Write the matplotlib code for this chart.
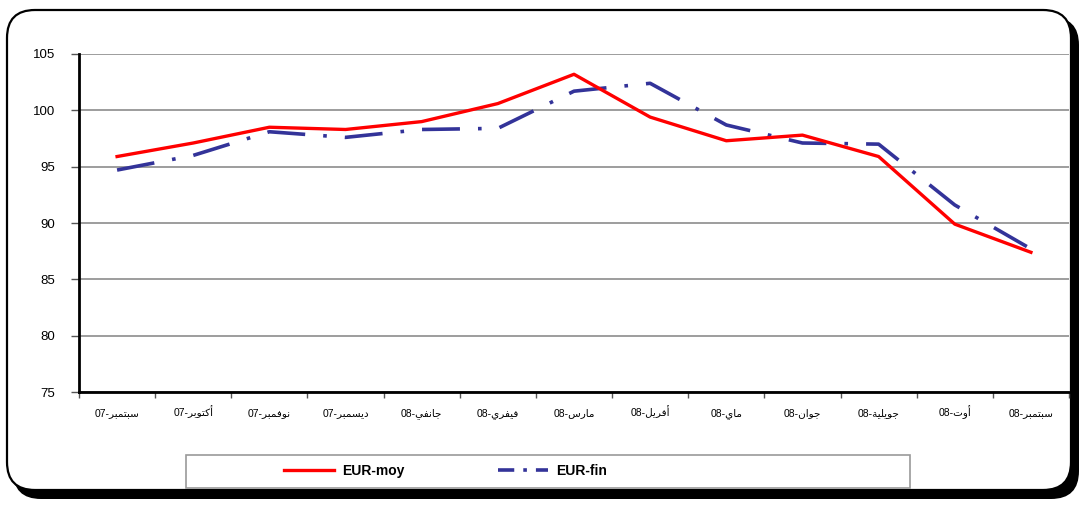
import numpy as np
import matplotlib
matplotlib.use("Agg")
import matplotlib.pyplot as plt
from matplotlib.patches import FancyBboxPatch, Rectangle
from matplotlib.lines import Line2D

plt.rcParams['font.family'] = ['Liberation Sans', 'DejaVu Sans']

# --- données
months = ['سبتمبر', 'أكتوبر', 'نوفمبر', 'ديسمبر', 'جانفي', 'فيفري', 'مارس',
          'أفريل', 'ماي', 'جوان', 'جويلية', 'أوت', 'سبتمبر']
years = ['07', '07', '07', '07', '08', '08', '08', '08', '08', '08', '08', '08', '08']
eur_moy = [95.9, 97.1, 98.5, 98.3, 99.0, 100.6, 103.2, 99.4, 97.3, 97.8, 95.9, 89.9, 87.4]
eur_fin = [94.7, 96.0, 98.1, 97.6, 98.3, 98.4, 101.7, 102.4, 98.7, 97.1, 97.0, 91.6, 87.7]
y_ticks = [75, 80, 85, 90, 95, 100, 105]

# --- formes contextuelles arabes (isolée, finale, initiale, médiane)
FORMS = {
    'ا': ('\uFE8D', '\uFE8E', None, None),
    'أ': ('\uFE83', '\uFE84', None, None),
    'ب': ('\uFE8F', '\uFE90', '\uFE91', '\uFE92'),
    'ة': ('\uFE93', '\uFE94', None, None),
    'ت': ('\uFE95', '\uFE96', '\uFE97', '\uFE98'),
    'ج': ('\uFE9D', '\uFE9E', '\uFE9F', '\uFEA0'),
    'د': ('\uFEA9', '\uFEAA', None, None),
    'ر': ('\uFEAD', '\uFEAE', None, None),
    'س': ('\uFEB1', '\uFEB2', '\uFEB3', '\uFEB4'),
    'ف': ('\uFED1', '\uFED2', '\uFED3', '\uFED4'),
    'ك': ('\uFED9', '\uFEDA', '\uFEDB', '\uFEDC'),
    'ل': ('\uFEDD', '\uFEDE', '\uFEDF', '\uFEE0'),
    'م': ('\uFEE1', '\uFEE2', '\uFEE3', '\uFEE4'),
    'ن': ('\uFEE5', '\uFEE6', '\uFEE7', '\uFEE8'),
    'و': ('\uFEED', '\uFEEE', None, None),
    'ي': ('\uFEF1', '\uFEF2', '\uFEF3', '\uFEF4'),
}


def shape(word):
    out = []
    n = len(word)
    for i, ch in enumerate(word):
        iso, fin, ini, med = FORMS[ch]
        prev_joins = i > 0 and FORMS[word[i - 1]][2] is not None
        next_joins = i < n - 1 and ini is not None
        if prev_joins and next_joins:
            out.append(med)
        elif prev_joins:
            out.append(fin)
        elif next_joins:
            out.append(ini)
        else:
            out.append(iso)
    return ''.join(reversed(out))


labels = [y + '-' + shape(m) for m, y in zip(months, years)]

W, H = 1080, 507
fig = plt.figure(figsize=(W / 100, H / 100), dpi=100)

# --- cadre arrondi avec ombre
bg = fig.add_axes([0, 0, 1, 1])
bg.set_xlim(0, W)
bg.set_ylim(H, 0)
bg.axis('off')
shadow = FancyBboxPatch((13, 17), 1066, 482, boxstyle="round,pad=0,rounding_size=28",
                        facecolor='black', edgecolor='black', lw=0)
frame = FancyBboxPatch((7, 10), 1064, 480, boxstyle="round,pad=0,rounding_size=28",
                       facecolor='white', edgecolor='black', lw=1.6)
bg.add_patch(shadow)
bg.add_patch(frame)
bg.add_patch(Rectangle((186, 455), 724, 33, facecolor='white', edgecolor='#9a9a9a', lw=1.2))

# --- graphique
x = np.arange(len(labels))
ax = fig.add_axes([79 / W, 1 - 392 / H, (1069 - 79) / W, (392 - 54) / H])
ax.plot(x, eur_moy, color='#ff0000', lw=2.4, label='EUR-moy', zorder=3)
ax.plot(x, eur_fin, color='#333399', lw=2.6, dashes=(10.5, 5, 1, 5), label='EUR-fin', zorder=2)

ax.set_xlim(-0.5, len(labels) - 0.5)
ax.set_ylim(75, 105)
ax.set_yticks(y_ticks)
ax.set_xticks(x)
ax.set_xticklabels(labels, fontsize=7.5, va='baseline')
ax.set_xticks(np.arange(len(labels) + 1) - 0.5, minor=True)
ax.tick_params(axis='x', which='major', length=0, pad=17)
ax.tick_params(axis='x', which='minor', length=4, width=1, color='#555555')
ax.tick_params(axis='y', length=6, width=1, pad=11, labelsize=9.5, color='#555555')
ax.grid(axis='y', color='#8c8c8c', lw=1.2)
ax.set_axisbelow(True)
for s in ['top', 'right']:
    ax.spines[s].set_visible(False)
for s in ['left', 'bottom']:
    ax.spines[s].set_linewidth(2)
    ax.spines[s].set_color('black')

# --- légende
handles = [Line2D([], [], color='#ff0000', lw=2.4),
           Line2D([], [], color='#333399', lw=2.6, dashes=(4.5, 2.5, 1, 2.5))]
fig.legend(handles, ['EUR-moy', 'EUR-fin'], loc='center left',
           bbox_to_anchor=(284 / W, 1 - 471 / H), ncol=2, frameon=False,
           prop={'size': 10, 'weight': 'bold'}, handlelength=3.6, handletextpad=0.6,
           columnspacing=6.7, borderaxespad=0, borderpad=0)

fig.savefig('out.png', dpi=100)
